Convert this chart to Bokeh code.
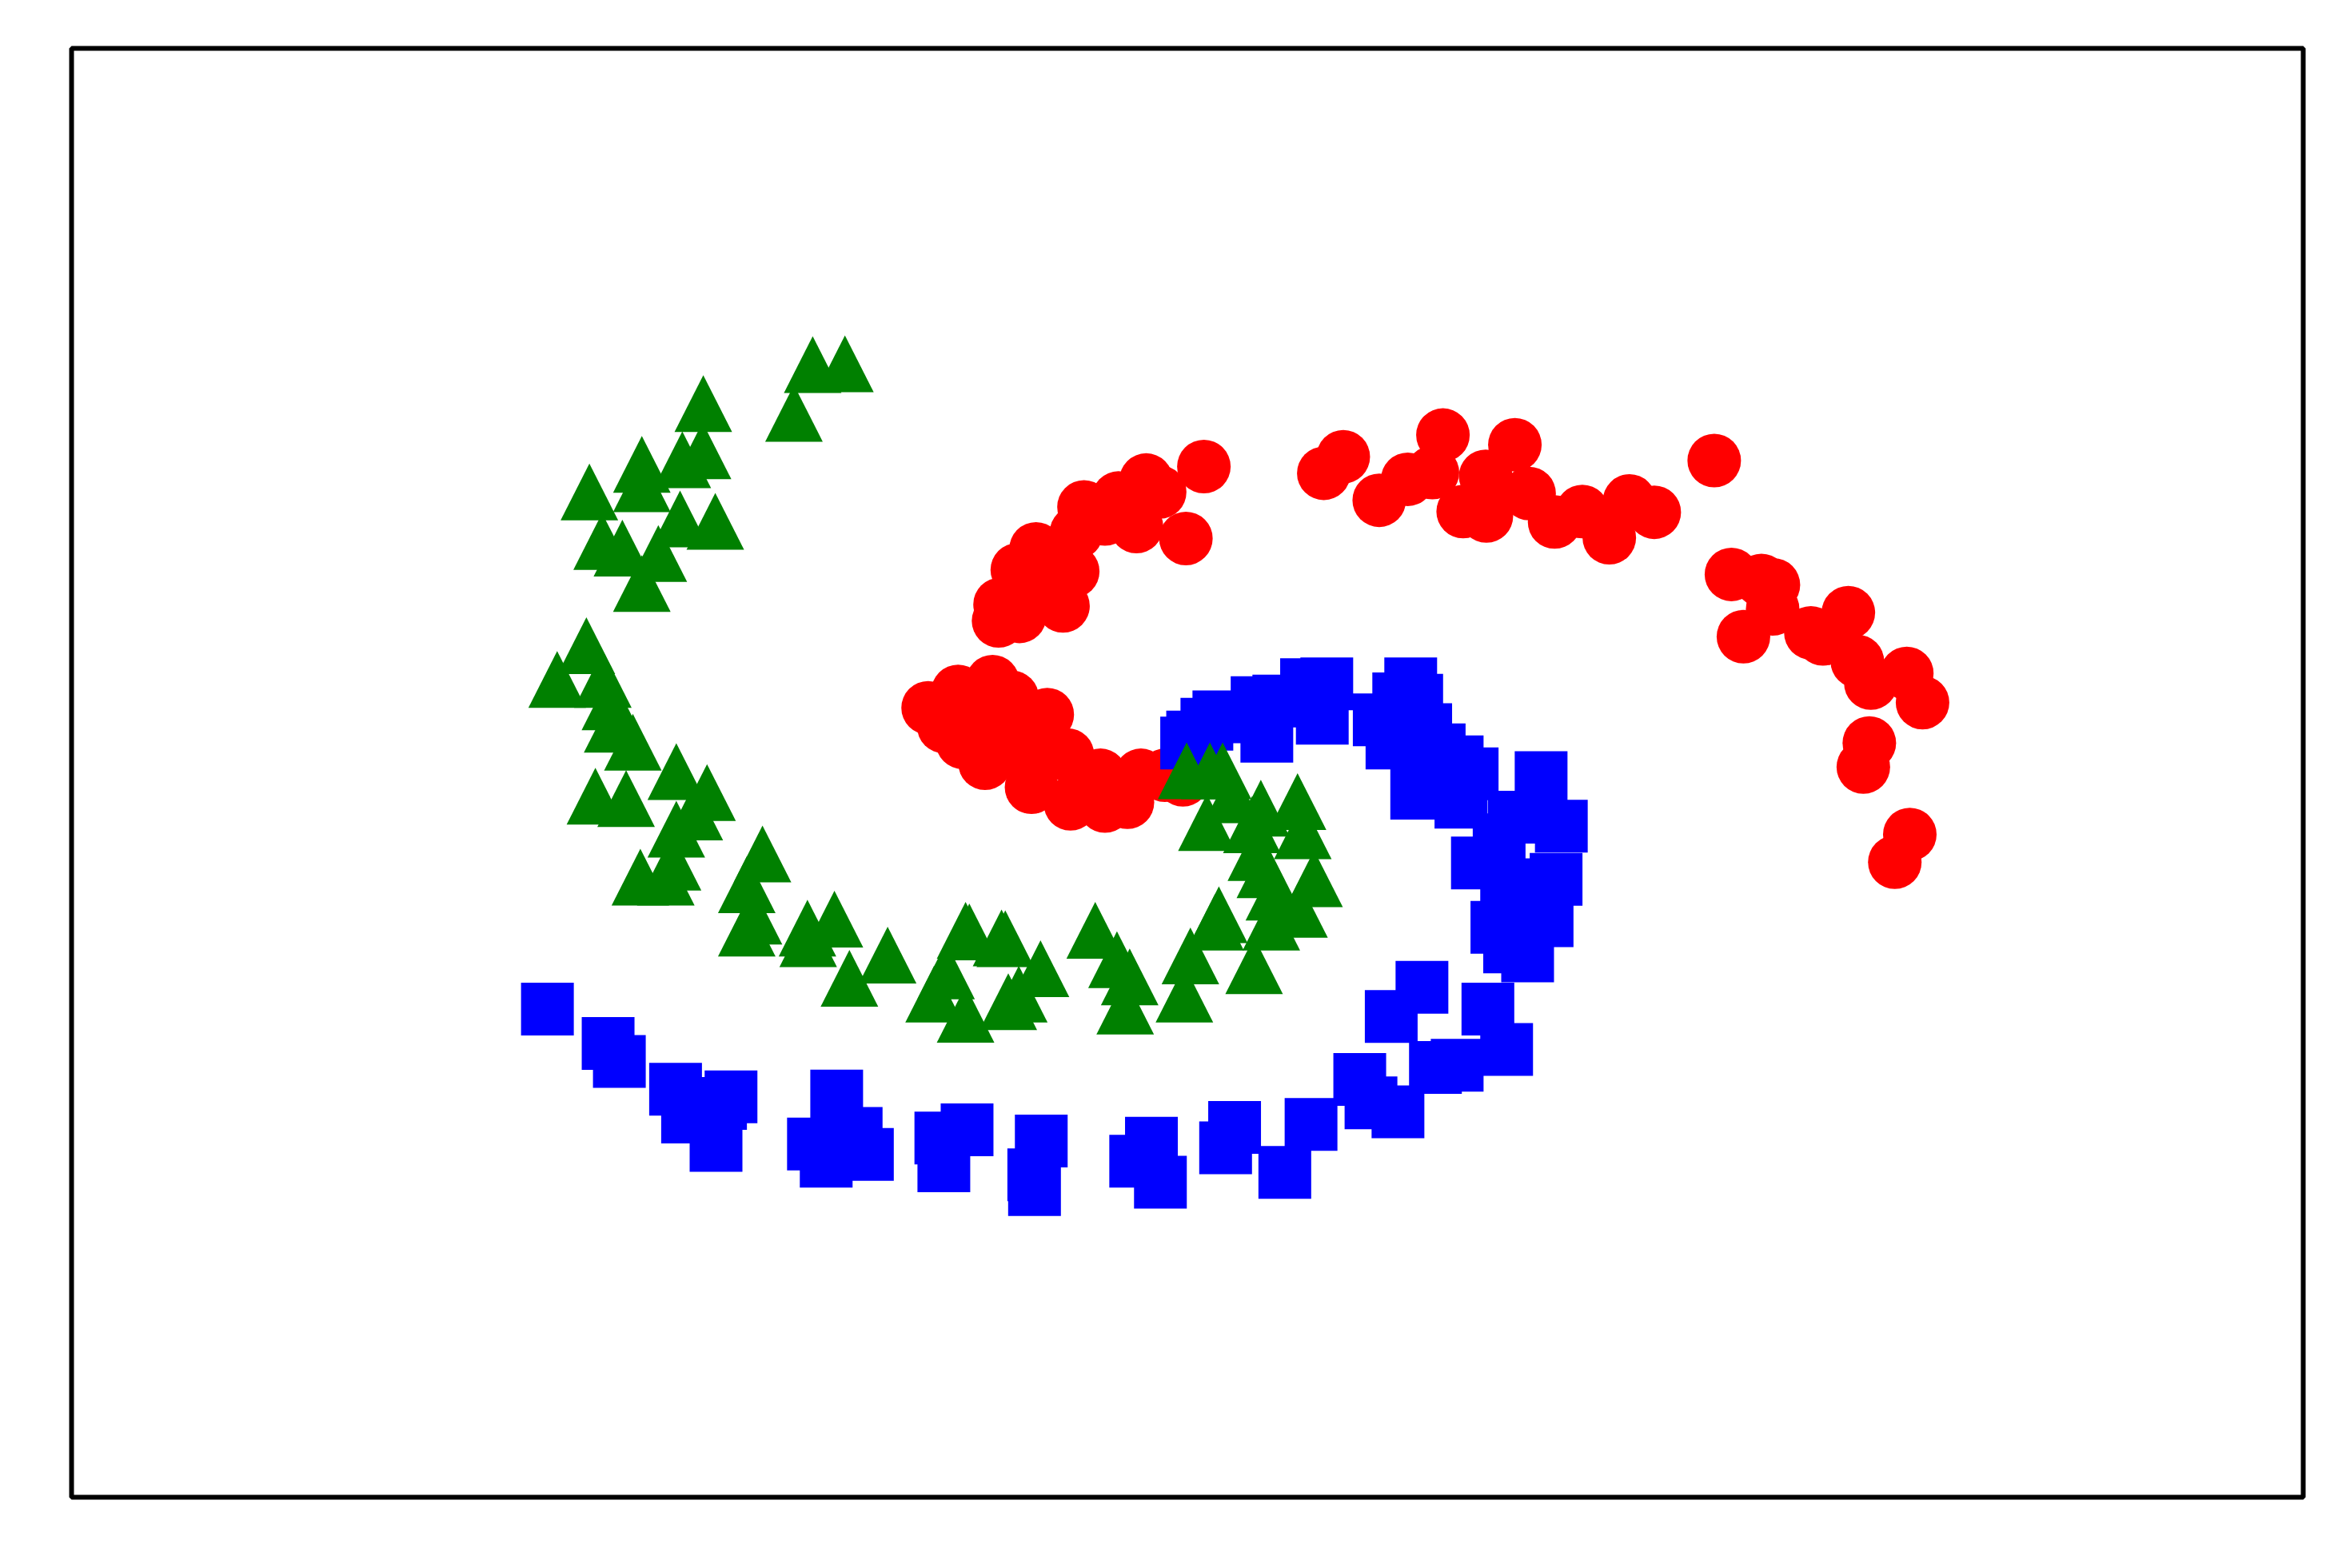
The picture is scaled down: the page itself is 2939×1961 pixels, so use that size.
from bokeh.plotting import figure
from bokeh.models import Range1d
from bokeh.embed import file_html
from bokeh.resources import INLINE

# ---- data ----
red_x = [0.115, -0.005, -0.27, -0.18, -0.455, -0.335, -0.685, -0.545, -0.735, -1.005,
         -1.13, -0.76, -0.825, -1.115, -1.255, -1.245, -0.945, -1.015,
         -1.725, -1.525, -1.295, -0.93, -1.495, -1.345, -1.035, -0.795, -0.775, -0.575,
         -0.545, -0.395, -0.305, -0.145, -0.025, -1.22, -1.62, -1.065, -1.165, -1.415,
         0.915, 1.045, 1.285, 1.475, 1.64, 1.71, 1.845, 1.995, 2.00, 2.19, 2.285, 2.455,
         2.64, 2.82, 2.955, 3.12, 3.52, 3.635, 3.835, 3.915, 3.91, 3.715, 4.165, 4.245,
         4.415, 4.475, 4.565, 4.805, 4.91, 4.555, 4.515, 4.825, 4.725]
red_y = [2.04, 1.56, 1.95, 1.87, 1.83, 1.64, 1.77, 1.69, 1.60, 1.49,
         1.35, 1.34, 1.11, 1.04, 1.01, 1.12, 1.27, 1.20,
         0.43, 0.54, 0.605, 0.385, 0.20, 0.06, -0.10, 0.115, -0.21, -0.02,
         -0.225, -0.20, -0.02, -0.02, -0.05, 0.305, 0.305, 0.115, 0.50, 0.40,
         1.995, 2.105, 1.815, 1.955, 2.00, 2.25, 1.74, 1.975, 1.71, 2.185, 1.86, 1.67,
         1.74, 1.565, 1.81, 1.735, 2.08, 1.32, 1.28, 1.25, 1.09, 0.905, 0.93, 0.89,
         1.065, 0.74, 0.595, 0.66, 0.465, 0.195, 0.035, -0.415, -0.60]

blue_x = [0.00, 0.04, 0.135, 0.215, 0.47, 0.615, 0.535, 0.80, 0.935, 0.905,
          1.495, 1.415, 1.535, 1.37, 1.535, 1.595, 1.805, 1.905, 2.365, 2.50,
          2.465, 2.405, 2.275, 1.83, 1.94, 2.07, 2.155, 1.57, 1.365, 2.01,
          2.135, 1.66, 1.805, 1.155, 1.23, 1.41, 2.185, 2.285, 2.135, 2.085,
          1.285, 1.685,
          -4.265, -3.86, -3.785, -3.41, -3.04, -3.33, -3.14, -3.11, -2.335, -2.49,
          -2.405, -2.13, -2.205, -1.64, -1.465, -1.62, -0.97, -1.02, -1.015, -0.235,
          -0.34, -0.175, 0.32, 0.26, 0.655, 0.83]
blue_y = [0.195, 0.235, 0.32, 0.37, 0.465, 0.475, 0.24, 0.585, 0.59, 0.36,
          0.59, 0.49, 0.48, 0.195, -0.14, 0.285, 0.07, -0.01, -0.035, -0.36,
          -0.715, -0.99, -1.225, -0.20, -0.605, -1.035, -1.165, -1.435, -1.63, -1.58,
          -1.85, -1.97, -1.955, -2.05, -2.205, -2.265, -0.30, -0.85, -0.75, -0.45,
          0.35, 0.15,
          -1.58, -1.81, -1.93, -2.115, -2.165, -2.30, -2.49, -2.21, -2.16, -2.48,
          -2.595, -2.55, -2.41, -2.44, -2.385, -2.625, -2.46, -2.685, -2.785, -2.475,
          -2.595, -2.735, -2.37, -2.505, -2.67, -2.35]

green_x = [-2.495, -2.28, -2.62, -3.225, -3.23, -3.635, -3.365, -3.985, -3.38, -3.145,
           -3.635, -3.90, -3.765, -3.525, -3.635, -4.005, -4.20, -3.895, -3.845, -3.83,
           -3.695, -3.945, -3.74, -3.405, -3.20, -3.285, -3.405, -3.43, -3.645, -3.475,
           -2.83, -2.935, -2.89, -2.935, -2.53, -2.35, -2.525, -2.25, -1.995,
           -1.45, -1.21, -1.605, -1.685, -1.475, -1.19, -1.12, -0.975, -1.235, -1.475,
           -0.61, -0.465, -0.38, -0.41, 0.025, -0.015, 0.45, 0.565, 0.75, 0.215, 0.19,
           0.00, 0.155, 0.24, 0.135, 0.74, 0.435, 0.775, 0.85, 0.525, 0.465, 0.495,
           0.305, 0.585]
green_y = [2.72, 2.725, 2.395, 2.46, 2.145, 2.055, 2.085, 1.87, 1.69, 1.675,
           1.925, 1.54, 1.495, 1.46, 1.26, 0.845, 0.62, 0.62, 0.47, 0.32,
           0.20, -0.16, -0.175, 0.005, -0.135, -0.265, -0.38, -0.60, -0.70, -0.70,
           -0.545, -0.75, -0.96, -1.04, -1.04, -0.98, -1.11, -1.375, -1.22,
           -1.065, -1.11, -1.325, -1.48, -1.615, -1.53, -1.48, -1.31, -1.105, -1.055,
           -1.055, -1.25, -1.365, -1.56, -1.225, -1.48, -1.29, -1.00, -0.915, -0.95, -1.00,
           0.01, 0.01, 0.01, -0.335, -0.195, -0.35, -0.39, -0.71, -0.65, -0.535, -0.24,
           -0.15, -0.80]

# ---- layout ----
W, H = 2939, 1961
left, right, top, bottom = 89, 59, 60, 89
fw, fh = W - left - right, H - top - bottom
x0, x1 = -7.44, 7.45
y0, y1 = -4.837, 4.83

p = figure(width=W, height=H, frame_width=fw, frame_height=fh,
           x_range=Range1d(x0, x1), y_range=Range1d(y0, y1),
           x_axis_location=None, y_axis_location=None,
           toolbar_location=None, output_backend="svg",
           min_border_left=left, min_border_right=right,
           min_border_top=top, min_border_bottom=bottom)
p.grid.visible = False
p.outline_line_color = "black"
p.outline_line_width = 6
p.background_fill_color = "white"
p.border_fill_color = "white"

# triangle markers with a matplotlib-like shape (bbox centred on the point)
tri_half_w_px, tri_half_h_px = 36.0, 35.5
dx = tri_half_w_px * (x1 - x0) / fw
dy = tri_half_h_px * (y1 - y0) / fh
tri_xs = [[x, x - dx, x + dx] for x in green_x]
tri_ys = [[y + dy, y - dy, y - dy] for y in green_y]

p.scatter(red_x, red_y, marker="circle", size=67, fill_color="#ff0000", line_color=None)
p.scatter(blue_x, blue_y, marker="square", size=66, fill_color="#0000ff", line_color=None)
p.patches(tri_xs, tri_ys, fill_color="#008000", line_color=None)

open("out.html", "w").write(file_html(p, INLINE))
